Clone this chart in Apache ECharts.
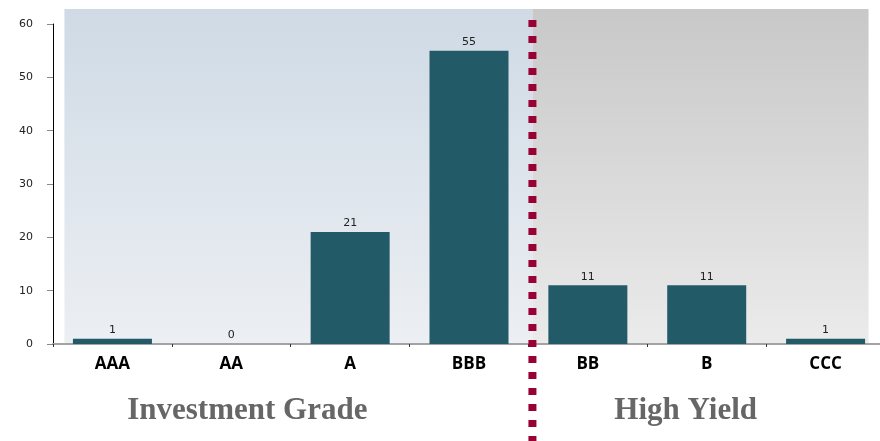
<!DOCTYPE html>
<html>
<head>
<meta charset="utf-8">
<script src="https://cdn.jsdelivr.net/npm/echarts@6/dist/echarts.min.js"></script>
<style>
  html, body { margin: 0; padding: 0; background: #fff; overflow: hidden; }
  #main { width: 900px; height: 441px; }
</style>
</head>
<body>
<div id="main"></div>
<script>
// ratings and counts
const ratings = ['AAA', 'AA', 'A', 'BBB', 'BB', 'B', 'CCC']
const counts = [1, 0, 21, 55, 11, 11, 1]
const yTicks = [0, 10, 20, 30, 40, 50, 60]
const groupNames = ['Investment Grade', 'High Yield']

const chart = echarts.init(document.getElementById('main'))

chart.setOption({
  animation: false,
  grid: { left: 53, top: 24, width: 832, height: 320 },
  xAxis: {
    type: 'category',
    data: ratings,
    axisLine: { lineStyle: { color: '#a3a3a3', width: 2 } },
    axisTick: { show: true, length: 3, lineStyle: { color: '#333' } },
    axisLabel: {
      margin: 12,
      color: '#000',
      fontFamily: 'Open Sans',
      fontWeight: 'bold',
      fontSize: 17
    }
  },
  yAxis: {
    type: 'value',
    min: yTicks[0],
    max: yTicks[yTicks.length - 1],
    interval: 10,
    splitLine: { show: false },
    axisLine: { show: true, lineStyle: { color: '#000', width: 1 } },
    axisTick: { show: true, length: 6, lineStyle: { color: '#888' } },
    axisLabel: {
      margin: 20,
      color: '#222',
      fontFamily: 'DejaVu Sans',
      fontSize: 11
    }
  },
  series: [{
    type: 'bar',
    data: counts,
    barWidth: 79,
    itemStyle: { color: '#225a68' },
    label: {
      show: true,
      position: 'top',
      distance: 3,
      color: '#222',
      fontFamily: 'DejaVu Sans',
      fontSize: 11
    }
  }]
})

// shaded panels, divider and group captions placed from the axes
const px = i => chart.convertToPixel({ xAxisIndex: 0 }, i)
const x0 = px(0) - 48
const xMid = (px(3) + px(4)) / 2 + 4
const x1 = px(6) + 43
const yBase = chart.convertToPixel({ yAxisIndex: 0 }, 0)
const yTop = 9

chart.setOption({
  graphic: [
    {
      type: 'rect', z: -10, silent: true,
      shape: { x: x0, y: yTop, width: xMid - x0, height: yBase - yTop },
      style: {
        fill: new echarts.graphic.LinearGradient(0, 0, 0, 1, [
          { offset: 0, color: '#cfdae5' },
          { offset: 1, color: '#eceff3' }
        ])
      }
    },
    {
      type: 'rect', z: -10, silent: true,
      shape: { x: xMid, y: yTop, width: x1 - xMid, height: yBase - yTop },
      style: {
        fill: new echarts.graphic.LinearGradient(0, 0, 0, 1, [
          { offset: 0, color: '#c8c8c8' },
          { offset: 1, color: '#ebebeb' }
        ])
      }
    },
    {
      type: 'line', z: 100, silent: true,
      shape: { x1: xMid, y1: 20, x2: xMid, y2: 441 },
      style: { stroke: '#990033', lineWidth: 8, lineDash: [7, 9] }
    },
    {
      type: 'text', z: 100, silent: true,
      x: px(1) + 16, y: 411,
      style: {
        text: groupNames[0], fill: '#666',
        font: 'bold 31px "Liberation Serif"',
        align: 'center', verticalAlign: 'middle'
      }
    },
    {
      type: 'text', z: 100, silent: true,
      x: px(5) - 21, y: 411,
      style: {
        text: groupNames[1], fill: '#666',
        font: 'bold 31px "Liberation Serif"',
        align: 'center', verticalAlign: 'middle'
      }
    }
  ]
})
</script>
</body>
</html>
